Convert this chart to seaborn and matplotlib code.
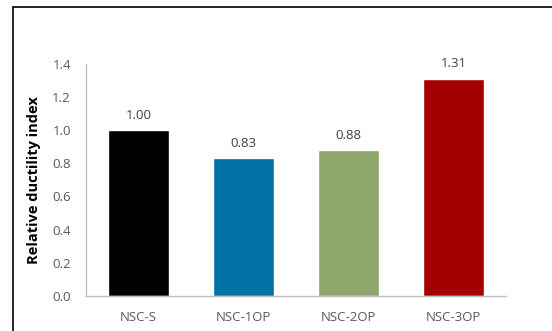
import matplotlib
matplotlib.use("Agg")
import matplotlib.pyplot as plt
import seaborn as sns
import pandas as pd
from matplotlib.patches import Rectangle

specimens = ["NSC-S", "NSC-1OP", "NSC-2OP", "NSC-3OP"]
ductility = [1.00, 0.83, 0.88, 1.31]
bar_colors = ["#000000", "#0072A3", "#8FA66B", "#A50000"]

df = pd.DataFrame({"specimen": specimens, "ductility": ductility})

sns.set_style("white")
plt.rcParams["font.family"] = ["Open Sans", "DejaVu Sans"]

fig = plt.figure(figsize=(5.52, 3.31), dpi=100)
ax = fig.add_axes([0.156, 0.106, 0.761, 0.701])

sns.barplot(data=df, x="specimen", y="ductility", hue="specimen",
            palette=bar_colors, width=0.58, legend=False, ax=ax, saturation=1)

for i, v in enumerate(ductility):
    ax.annotate(f"{v:.2f}", (i, v), xytext=(0, 6), textcoords="offset points",
                ha="center", va="bottom", fontsize=9.5, color="#404040")

ax.set_ylim(0, 1.4)
ax.set_xlim(-0.5, 3.5)
ax.set_yticks([0, 0.2, 0.4, 0.6, 0.8, 1.0, 1.2, 1.4])
ax.set_yticklabels([f"{t:.1f}" for t in ax.get_yticks()])
ax.set_xlabel("")
ax.set_ylabel("Relative ductility index", fontsize=10.5, fontweight="bold",
              color="#000000", labelpad=8)
ax.tick_params(axis="both", length=0, labelsize=9.5, colors="#595959")
ax.tick_params(axis="x", pad=11)
ax.tick_params(axis="y", pad=11)

sns.despine(ax=ax, top=True, right=True)
for s in ["left", "bottom"]:
    ax.spines[s].set_color("#BFBFBF")
    ax.spines[s].set_linewidth(1)

# outer chart border (cut off at right/bottom in the reference)
fig.patches.append(Rectangle((13 / 552, -0.1), 1.2, 1 - 7 / 331 + 0.1,
                             transform=fig.transFigure, fill=False,
                             edgecolor="#000000", linewidth=1.2))

fig.savefig("out.png", dpi=100)
